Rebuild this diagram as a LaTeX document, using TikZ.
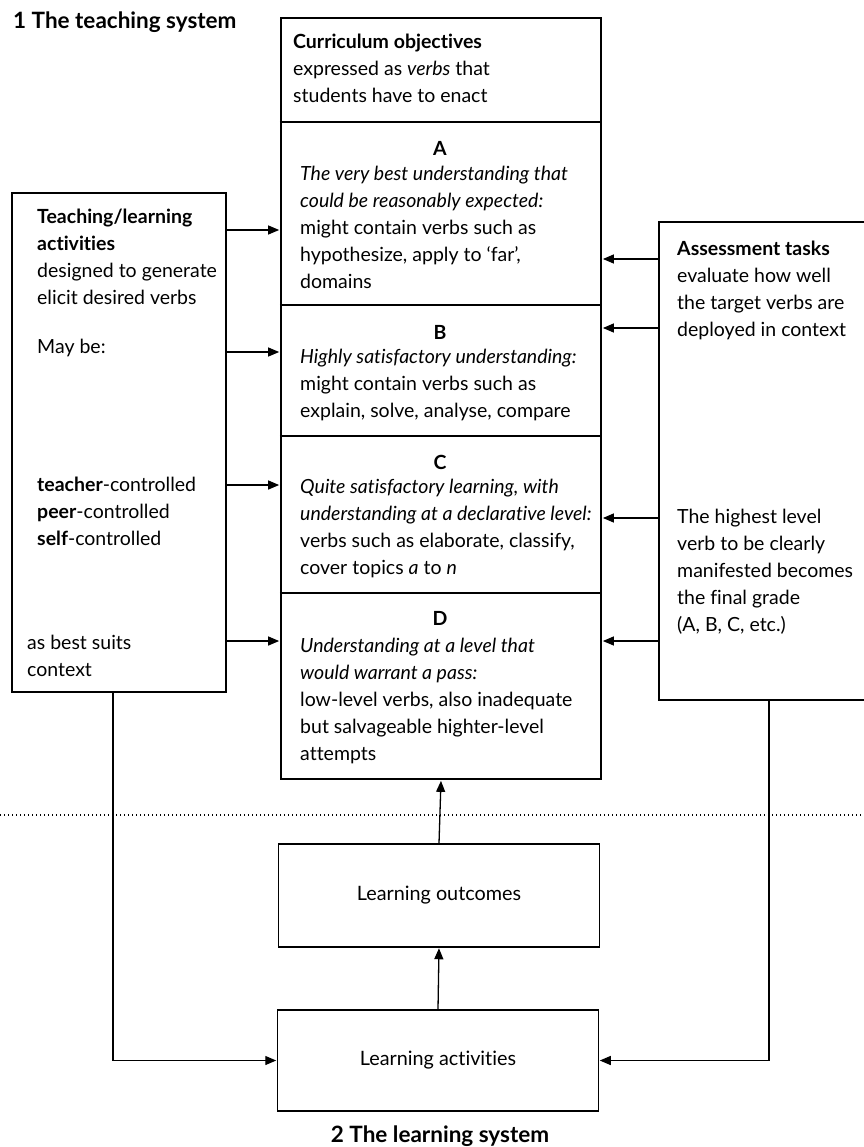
\documentclass[tikz,border=0pt]{standalone}
\usepackage{fontspec}
\setmainfont{Lato}[Ligatures=NoCommon]
\usetikzlibrary{arrows.meta}

\begin{document}
\begin{tikzpicture}[x=1pt,y=-1pt,
  box/.style={draw, line width=1.3pt, rectangle, inner sep=0pt},
  thickbox/.style={draw, line width=2.5pt, rectangle, inner sep=0pt},
  sep/.style={line width=1.3pt},
  arr/.style={line width=1.3pt, -{Triangle[length=11pt,width=9pt]}, shorten >=0.6pt},
  txt/.style={anchor=north west, inner sep=0pt, align=left, font=\fontsize{19.5}{27}\selectfont},
  grade/.style={anchor=center, inner sep=0pt, font=\fontsize{19.5}{27}\selectfont\bfseries},
  heading/.style={inner sep=0pt, font=\fontsize{22.5}{27}\selectfont\bfseries},
  plain/.style={inner sep=0pt, font=\fontsize{19.8}{27}\selectfont},
  divider/.style={line width=1.2pt, dash pattern=on 1.4pt off 2.6pt}
]
\useasboundingbox (0,0) rectangle (863,1147);

% system headings
\node[heading, anchor=west] (t1) at (13,22) {1 The teaching system};
\node[heading, anchor=center] (t2) at (440,1136) {2 The learning system};

% boxes
\node[thickbox, minimum width=320pt, minimum height=761pt] (C) at (441,398.5) {};
\node[box, minimum width=214pt, minimum height=499pt] (L) at (119,442.5) {};
\node[box, minimum width=212pt, minimum height=478pt] (R) at (765,461) {};
\node[box, minimum width=321pt, minimum height=103pt] (LO) at (439,895.5) {};
\node[box, minimum width=321pt, minimum height=101pt] (LA) at (438,1060.5) {};

% section rules of the curriculum box
\draw[sep] (C.west |- 0,122) -- (C.east |- 0,122);
\draw[sep] (C.west |- 0,305) -- (C.east |- 0,305);
\draw[sep] (C.west |- 0,436) -- (C.east |- 0,436);
\draw[sep] (C.west |- 0,593) -- (C.east |- 0,593);

% curriculum objectives
\node[txt] (hdr) at (293,29) {\strut\textbf{Curriculum objectives}\\expressed as \textit{verbs} that\\students have to enact};
\node[grade] (gA) at (440,148) {A};
\node[txt] (tA) at (300,161) {\strut\textit{The very best understanding that}\\\textit{could be reasonably expected:}\\might contain verbs such as\\hypothesize, apply to `far',\\domains};
\node[grade] (gB) at (440,332) {B};
\node[txt] (tB) at (300,344) {\strut\textit{Highly satisfactory understanding:}\\might contain verbs such as\\explain, solve, analyse, compare};
\node[grade] (gC) at (440,462) {C};
\node[txt] (tC) at (300,474) {\strut\textit{Quite satisfactory learning, with}\\\textit{understanding at a declarative level:}\\verbs such as elaborate, classify,\\cover topics \textit{a} to \textit{n}};
\node[grade] (gD) at (440,618) {D};
\node[txt] (tD) at (300,633) {\strut\textit{Understanding at a level that}\\\textit{would warrant a pass:}\\low-level verbs, also inadequate\\but salvageable highter-level\\attempts};

% teaching/learning activities
\node[txt] (l1) at (37,204) {\strut\textbf{Teaching/learning}\\\textbf{activities}\\designed to generate\\elicit desired verbs};
\node[txt] (l2) at (37,334) {\strut May be:};
\node[txt] (l3) at (37,472) {\strut\textbf{teacher}-controlled\\\textbf{peer}-controlled\\\textbf{self}-controlled};
\node[txt] (l4) at (27,630) {\strut as best suits\\context};

% assessment tasks
\node[txt] (r1) at (677,236) {\strut\textbf{Assessment tasks}\\evaluate how well\\the target verbs are\\deployed in context};
\node[txt] (r2) at (677,504) {\strut The highest level\\verb to be clearly\\manifested becomes\\the final grade\\(A, B, C, etc.)};

% learning system
\node[plain] (lo) at (LO.center) {Learning outcomes};
\node[plain] (la) at (LA.center) {Learning activities};

% activities feed every grade level
\draw[arr] (L.east |- 0,230) -- (C.west |- 0,230);
\draw[arr] (L.east |- 0,352) -- (C.west |- 0,352);
\draw[arr] (L.east |- 0,485) -- (C.west |- 0,485);
\draw[arr] (L.east |- 0,641) -- (C.west |- 0,641);

% assessment judges every grade level
\draw[arr] (R.west |- 0,259) -- (C.east |- 0,259);
\draw[arr] (R.west |- 0,328) -- (C.east |- 0,328);
\draw[arr] (R.west |- 0,518) -- (C.east |- 0,518);
\draw[arr] (R.west |- 0,641) -- (C.east |- 0,641);

% learning system chain
\draw[arr] (LA.north) -- (LO.south);
\draw[arr] (LO.north) -- (C.south);

% both sides of the teaching system reach the learning activities
\draw[arr] (L.south -| 113,0) |- (LA.west);
\draw[arr] (R.south -| 769,0) |- (LA.east);

% boundary between the two systems
\coordinate (bl) at (0,815);
\coordinate (br) at (863,815);
\draw[divider] (bl) -- (br);
\end{tikzpicture}
\end{document}
